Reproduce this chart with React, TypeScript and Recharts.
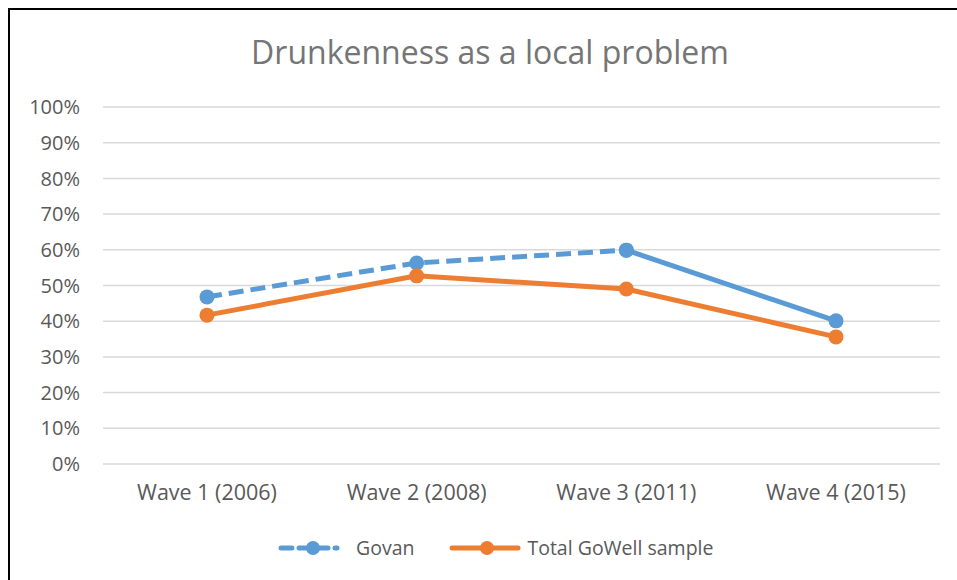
import React from 'react'
import { LineChart, Line, XAxis, YAxis, CartesianGrid } from 'recharts'

const waves = ['Wave 1 (2006)', 'Wave 2 (2008)', 'Wave 3 (2011)', 'Wave 4 (2015)']
const govan = [46.8, 56.3, 59.9, 40.1]
const totalGoWell = [41.7, 52.7, 49.0, 35.6]
const yTicks = [0, 10, 20, 30, 40, 50, 60, 70, 80, 90, 100]

// Govan is dashed up to wave 3, solid from wave 3 to wave 4
const SOLID_FROM = 2

const BLUE = '#5B9BD5'
const ORANGE = '#ED7D31'
const FONT = "'Open Sans', sans-serif"

const data = waves.map((wave, i) => ({
  wave,
  govanDashed: i <= SOLID_FROM ? govan[i] : null,
  govanSolid: i >= SOLID_FROM ? govan[i] : null,
  total: totalGoWell[i],
}))

export default function App() {
  return (
    <div
      style={{
        // fixed so the frame can run off the window edge without scrollbars
        position: 'fixed',
        top: 8,
        left: 8,
        boxSizing: 'border-box',
        width: 949,
        height: 572,
        borderTop: '2px solid #000',
        borderLeft: '2px solid #000',
        fontFamily: FONT,
        background: '#fff',
        overflow: 'hidden',
      }}
    >
      <div
        style={{
          position: 'absolute',
          top: 23,
          left: 0,
          width: 960,
          textAlign: 'center',
          fontSize: 32,
          color: '#757575',
          lineHeight: '38px',
        }}
      >
        Drunkenness as a local problem
      </div>

      <LineChart
        width={947}
        height={570}
        data={data}
        margin={{ top: 97, right: 17, left: 33, bottom: 76 }}
      >
        <CartesianGrid vertical={false} stroke="#D9D9D9" strokeWidth={1.5} />
        <XAxis
          dataKey="wave"
          height={40}
          padding={{ left: 104, right: 104 }}
          axisLine={false}
          tickLine={false}
          tickSize={0}
          tickMargin={21}
          tick={{ fill: '#595959', fontSize: 21.5, fontFamily: FONT }}
        />
        <YAxis
          width={60}
          domain={[0, 100]}
          ticks={yTicks}
          axisLine={false}
          tickLine={false}
          tickSize={0}
          tickMargin={23}
          tickFormatter={(v) => `${v}%`}
          tick={{ fill: '#595959', fontSize: 20, fontFamily: FONT }}
        />
        <Line
          dataKey="govanDashed"
          stroke={BLUE}
          strokeWidth={5}
          strokeDasharray="15 7"
          dot={{ r: 7.5, fill: BLUE, stroke: BLUE, strokeWidth: 0 }}
          connectNulls={false}
          isAnimationActive={false}
        />
        <Line
          dataKey="govanSolid"
          stroke={BLUE}
          strokeWidth={5}
          dot={{ r: 7.5, fill: BLUE, stroke: BLUE, strokeWidth: 0 }}
          connectNulls={false}
          isAnimationActive={false}
        />
        <Line
          dataKey="total"
          stroke={ORANGE}
          strokeWidth={5}
          dot={{ r: 7.5, fill: ORANGE, stroke: ORANGE, strokeWidth: 0 }}
          isAnimationActive={false}
        />
      </LineChart>

      {/* Legend */}
      <div
        style={{
          position: 'absolute',
          top: 526,
          left: 268,
          display: 'flex',
          alignItems: 'center',
          fontSize: 19.5,
          color: '#595959',
          lineHeight: '24px',
        }}
      >
        <svg width={62} height={16}>
          <line x1={3} y1={8} x2={59} y2={8} stroke={BLUE} strokeWidth={5} strokeDasharray="11 7" strokeLinecap="round" />
          <circle cx={35} cy={8} r={7} fill={BLUE} />
        </svg>
        <span style={{ marginLeft: 16 }}>Govan</span>
        <svg width={72} height={16} style={{ marginLeft: 35 }}>
          <line x1={3} y1={8} x2={69} y2={8} stroke={ORANGE} strokeWidth={5} strokeLinecap="round" />
          <circle cx={38} cy={8} r={7} fill={ORANGE} />
        </svg>
        <span style={{ marginLeft: 6 }}>Total GoWell sample</span>
      </div>
    </div>
  )
}
